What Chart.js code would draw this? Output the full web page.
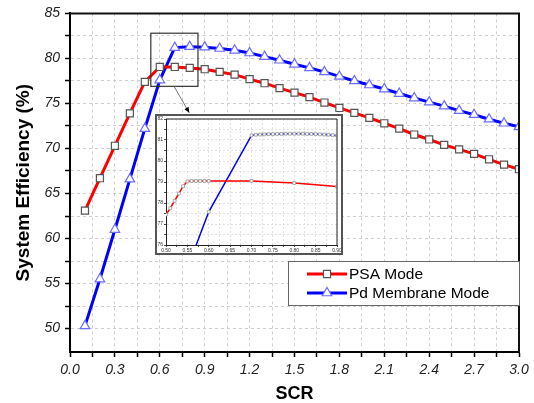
<!DOCTYPE html>
<html>
<head>
<meta charset="utf-8">
<script src="https://cdn.jsdelivr.net/npm/chart.js@4/dist/chart.umd.min.js"></script>
<style>
  body { margin: 0; background: #fff; }
  #wrap { position: relative; width: 534px; height: 403px; }
  #mainChart { position: absolute; left: 0; top: 0; }
  #insetChart { position: absolute; left: 155px; top: 114px; }
</style>
</head>
<body>
<div id="wrap">
  <canvas id="mainChart" width="534" height="403"></canvas>
  <canvas id="insetChart" width="188" height="141"></canvas>
</div>
<script>
// main chart data
const scr = [0.1, 0.2, 0.3, 0.4, 0.5, 0.6, 0.7, 0.8, 0.9, 1.0,
             1.1, 1.2, 1.3, 1.4, 1.5, 1.6, 1.7, 1.8, 1.9, 2.0,
             2.1, 2.2, 2.3, 2.4, 2.5, 2.6, 2.7, 2.8, 2.9, 3.0];
const psaMode = [63.1, 66.7, 70.3, 73.9, 77.4, 79.05, 79.05, 78.95, 78.8, 78.5,
                 78.2, 77.7, 77.25, 76.7, 76.2, 75.7, 75.1, 74.5, 73.95, 73.4,
                 72.8, 72.2, 71.55, 71.0, 70.4, 69.9, 69.4, 68.8, 68.2, 67.7];
const pdMode = [50.3, 55.5, 61.0, 66.6, 72.2, 77.6, 81.2, 81.3, 81.25, 81.1,
                80.9, 80.6, 80.2, 79.8, 79.35, 78.95, 78.5, 78.0, 77.5, 77.05,
                76.6, 76.1, 75.6, 75.15, 74.7, 74.2, 73.75, 73.25, 72.8, 72.4];
const xTickLabels = ['0.0', '0.3', '0.6', '0.9', '1.2', '1.5', '1.8', '2.1', '2.4', '2.7', '3.0'];
const yTickLabels = ['50', '55', '60', '65', '70', '75', '80', '85'];

// inset (zoomed) data
const insetPsaX = [0.50, 0.51, 0.52, 0.53, 0.54, 0.55, 0.56, 0.57, 0.58, 0.59, 0.60, 0.70, 0.80, 0.90];
const insetPsaY = [77.45, 77.75, 78.1, 78.45, 78.8, 79.03, 79.05, 79.05, 79.05, 79.05, 79.05, 79.05, 78.95, 78.78];
const insetPdX = [0.50, 0.60, 0.70, 0.71, 0.72, 0.73, 0.74, 0.75, 0.76, 0.77, 0.78, 0.79, 0.80,
                  0.81, 0.82, 0.83, 0.84, 0.85, 0.86, 0.87, 0.88, 0.89, 0.90];
const insetPdY = [72.2, 77.58, 81.22, 81.25, 81.26, 81.27, 81.28, 81.28, 81.29, 81.29, 81.3, 81.3, 81.3,
                  81.3, 81.3, 81.29, 81.29, 81.28, 81.27, 81.26, 81.25, 81.23, 81.21];
const insetXTickLabels = ['0.50', '0.55', '0.60', '0.65', '0.70', '0.75', '0.80', '0.85', '0.90'];
const insetYTickLabels = ['76', '77', '78', '79', '80', '81', '82'];

// zoom window marked on the main chart (data units)
const zoomBox = { x0: 0.54, x1: 0.855, y0: 76.9, y1: 82.8 };
const zoomArrow = { x0: 0.695, y0: 76.9, x1: 0.797, y1: 73.96 };

const FONT = '"Liberation Sans", Arial, sans-serif';

function toPoints(xs, ys) {
  return xs.map((x, i) => ({ x: x, y: ys[i] }));
}

// labels plus the minor tick halfway between each pair
function tickBuilder(labels) {
  return scale => {
    const vals = labels.map(Number);
    const ticks = [];
    vals.forEach((v, i) => {
      ticks.push({ value: v });
      if (i < vals.length - 1) ticks.push({ value: (v + vals[i + 1]) / 2 });
    });
    scale.ticks = ticks;
  };
}
function tickLabel(labels) {
  return value => {
    const hit = labels.find(l => Math.abs(Number(l) - value) < 1e-9);
    return hit === undefined ? '' : hit;
  };
}

const frame = {
  id: 'frame',
  afterDatasetsDraw(chart, args, opts) {
    const { ctx, chartArea: a } = chart;
    ctx.save();
    ctx.strokeStyle = opts.color || '#000';
    ctx.lineWidth = opts.width || 2;
    ctx.beginPath();
    ctx.moveTo(a.left, a.top);
    ctx.lineTo(a.right, a.top);
    ctx.lineTo(a.right, a.bottom);
    ctx.stroke();
    ctx.restore();
  }
};

const zoomMark = {
  id: 'zoomMark',
  afterDatasetsDraw(chart) {
    const { ctx, scales: { x, y } } = chart;
    ctx.save();
    ctx.strokeStyle = '#333';
    ctx.lineWidth = 1.2;
    const l = x.getPixelForValue(zoomBox.x0), r = x.getPixelForValue(zoomBox.x1);
    const t = y.getPixelForValue(zoomBox.y1), b = y.getPixelForValue(zoomBox.y0);
    ctx.strokeRect(l, t, r - l, b - t);
    const ax = x.getPixelForValue(zoomArrow.x0), ay = y.getPixelForValue(zoomArrow.y0);
    const bx = x.getPixelForValue(zoomArrow.x1), by = y.getPixelForValue(zoomArrow.y1);
    ctx.strokeStyle = '#555';
    ctx.lineWidth = 0.8;
    ctx.beginPath();
    ctx.moveTo(ax, ay);
    ctx.lineTo(bx, by);
    ctx.stroke();
    const ang = Math.atan2(by - ay, bx - ax);
    ctx.fillStyle = '#000';
    ctx.beginPath();
    ctx.moveTo(bx, by);
    ctx.lineTo(bx - 6 * Math.cos(ang - 0.4), by - 6 * Math.sin(ang - 0.4));
    ctx.lineTo(bx - 6 * Math.cos(ang + 0.4), by - 6 * Math.sin(ang + 0.4));
    ctx.closePath();
    ctx.fill();
    ctx.restore();
  }
};

const boxLegend = {
  id: 'boxLegend',
  afterDraw(chart) {
    const { ctx, chartArea: a } = chart;
    const w = 231, h = 44;
    const left = a.right - w, top = a.bottom - 91;
    ctx.save();
    ctx.fillStyle = '#fff';
    ctx.fillRect(left, top, w, h);
    ctx.strokeStyle = '#666';
    ctx.lineWidth = 1;
    ctx.strokeRect(left + 0.5, top + 0.5, w, h);
    chart.data.datasets.forEach((ds, i) => {
      const cy = top + 13 + i * 19;
      const x0 = left + 19, x1 = left + 59;
      ctx.strokeStyle = ds.borderColor;
      ctx.lineWidth = 3;
      ctx.beginPath();
      ctx.moveTo(x0, cy);
      ctx.lineTo(x1, cy);
      ctx.stroke();
      ctx.fillStyle = ds.pointBackgroundColor;
      ctx.strokeStyle = ds.pointBorderColor;
      ctx.lineWidth = 1.2;
      Chart.helpers.drawPoint(ctx, { pointStyle: ds.pointStyle, radius: ds.pointRadius, rotation: 0, borderWidth: 1.2 }, (x0 + x1) / 2, cy);
      ctx.fillStyle = '#000';
      ctx.font = '15.5px ' + FONT;
      ctx.textBaseline = 'middle';
      ctx.fillText(ds.label, x1 + 2, cy + 1);
    });
    ctx.restore();
  }
};

new Chart(document.getElementById('mainChart'), {
  type: 'line',
  data: {
    datasets: [
      {
        label: 'PSA Mode',
        data: toPoints(scr, psaMode),
        borderColor: '#ff0000',
        borderWidth: 3,
        pointStyle: 'rect',
        pointRadius: 5,
        pointBorderWidth: 1.2,
        pointBorderColor: '#555',
        pointBackgroundColor: '#fff',
        tension: 0
      },
      {
        label: 'Pd Membrane Mode',
        data: toPoints(scr, pdMode),
        borderColor: '#0000ff',
        borderWidth: 3,
        pointStyle: 'triangle',
        pointRadius: 5.5,
        pointBorderWidth: 1.2,
        pointBorderColor: '#6b6bff',
        pointBackgroundColor: '#fff',
        tension: 0
      }
    ]
  },
  options: {
    responsive: false,
    animation: false,
    devicePixelRatio: 1,
    layout: { padding: { top: 13, right: 15, left: 0, bottom: 0 } },
    plugins: { legend: { display: false }, tooltip: { enabled: false }, frame: { width: 2, color: '#111' } },
    scales: {
      x: {
        type: 'linear',
        min: 0,
        max: 3.0,
        afterBuildTicks: tickBuilder(xTickLabels),
        afterFit: s => { s.height = 51; },
        ticks: {
          callback: tickLabel(xTickLabels),
          autoSkip: false,
          maxRotation: 0,
          padding: 5,
          color: '#222',
          font: { family: FONT, size: 14, style: 'italic' }
        },
        grid: { color: '#cfcfcf', lineWidth: 1, tickLength: 5, tickColor: '#000', tickWidth: 1.5 },
        border: { display: true, color: '#000', width: 2, dash: [3, 3] },
        title: {
          display: true,
          text: 'SCR',
          color: '#000',
          padding: { top: 0, bottom: 0 },
          font: { family: FONT, size: 18, weight: 'bold', lineHeight: 1 }
        }
      },
      y: {
        min: 47.4,
        max: 85,
        afterBuildTicks: tickBuilder(yTickLabels),
        afterFit: s => { s.width = 70; },
        ticks: {
          callback: tickLabel(yTickLabels),
          autoSkip: false,
          padding: 5,
          color: '#222',
          font: { family: FONT, size: 14, style: 'italic' }
        },
        grid: { color: '#cfcfcf', lineWidth: 1, tickLength: 5, tickColor: '#000', tickWidth: 1.5 },
        border: { display: true, color: '#000', width: 2, dash: [3, 3] },
        title: {
          display: true,
          text: 'System Efficiency (%)',
          color: '#000',
          padding: { top: 14, bottom: 0 },
          font: { family: FONT, size: 19, weight: 'bold', lineHeight: 1 }
        }
      }
    }
  },
  plugins: [frame, zoomMark, boxLegend]
});

const insetFrame = {
  id: 'insetFrame',
  beforeDraw(chart) {
    const { ctx, width, height } = chart;
    ctx.save();
    ctx.fillStyle = '#fff';
    ctx.fillRect(0, 0, width, height);
    ctx.restore();
  },
  afterDraw(chart) {
    const { ctx, width, height } = chart;
    ctx.save();
    ctx.strokeStyle = '#555';
    ctx.lineWidth = 2;
    ctx.strokeRect(1, 1, width - 2, height - 2);
    ctx.restore();
  }
};

new Chart(document.getElementById('insetChart'), {
  type: 'line',
  data: {
    datasets: [
      {
        label: 'PSA Mode',
        data: toPoints(insetPsaX, insetPsaY),
        borderColor: '#ff0000',
        borderWidth: 1.5,
        pointStyle: 'rect',
        pointRadius: 2,
        pointBorderWidth: 0.8,
        pointBorderColor: '#999',
        pointBackgroundColor: '#fff',
        tension: 0
      },
      {
        label: 'Pd Membrane Mode',
        data: toPoints(insetPdX, insetPdY),
        borderColor: '#0000ff',
        borderWidth: 1.5,
        pointStyle: 'rect',
        pointRadius: 2,
        pointBorderWidth: 0.8,
        pointBorderColor: '#999',
        pointBackgroundColor: '#fff',
        tension: 0
      }
    ]
  },
  options: {
    responsive: false,
    animation: false,
    devicePixelRatio: 1,
    layout: { padding: { top: 5, right: 6, left: 0, bottom: 0 } },
    plugins: { legend: { display: false }, tooltip: { enabled: false }, frame: { width: 1, color: '#222' } },
    scales: {
      x: {
        type: 'linear',
        min: 0.5,
        max: 0.9,
        afterBuildTicks: tickBuilder(insetXTickLabels),
        afterFit: s => { s.height = 10; },
        ticks: {
          callback: tickLabel(insetXTickLabels),
          autoSkip: false,
          maxRotation: 0,
          padding: 1,
          color: '#333',
          font: { family: FONT, size: 5 }
        },
        grid: { color: '#d8d8d8', lineWidth: 0.8, tickLength: 2, tickColor: '#222', tickWidth: 0.8 },
        border: { display: true, color: '#222', width: 1, dash: [2, 2] }
      },
      y: {
        min: 76,
        max: 82,
        afterBuildTicks: tickBuilder(insetYTickLabels),
        afterFit: s => { s.width = 11; },
        ticks: {
          callback: tickLabel(insetYTickLabels),
          autoSkip: false,
          padding: 1,
          color: '#333',
          font: { family: FONT, size: 5 }
        },
        grid: { color: '#d8d8d8', lineWidth: 0.8, tickLength: 2, tickColor: '#222', tickWidth: 0.8 },
        border: { display: true, color: '#222', width: 1, dash: [2, 2] }
      }
    }
  },
  plugins: [frame, insetFrame]
});
</script>
</body>
</html>
